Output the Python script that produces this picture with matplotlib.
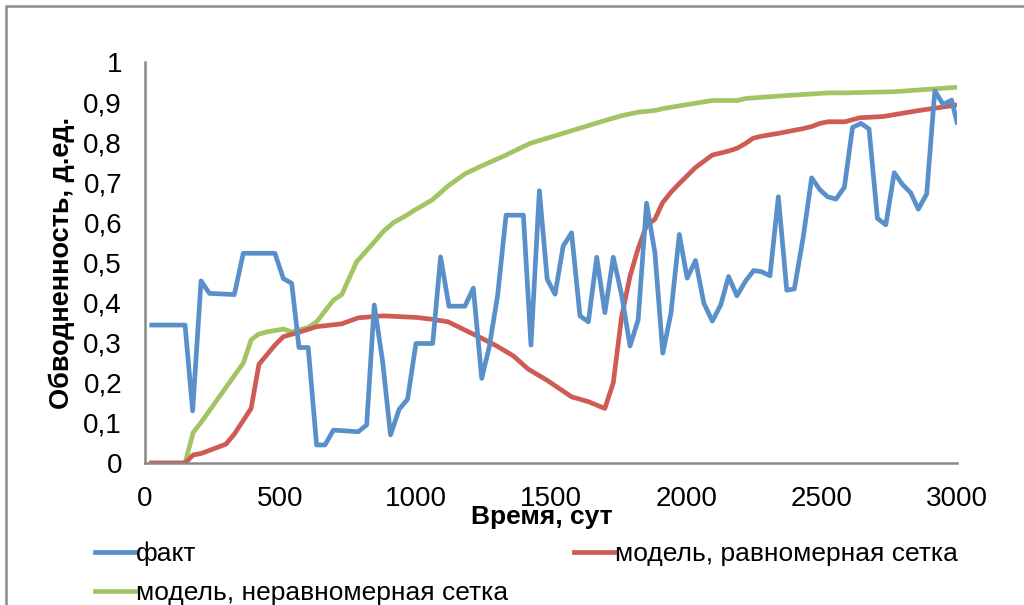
import matplotlib.pyplot as plt
import matplotlib.ticker as ticker
from matplotlib.patches import Rectangle

plt.rcParams['font.family'] = ['Liberation Sans', 'DejaVu Sans']

# факт
fact_days = [25, 148, 176, 207, 238, 330, 363, 480, 511, 542, 569, 603, 634, 665, 696,
             788, 819, 847, 878, 907, 939, 970, 1001, 1063, 1092, 1123, 1182, 1213, 1244, 1272,
             1303, 1334, 1398, 1426, 1457, 1486, 1515, 1545, 1576, 1607, 1638, 1669, 1699, 1730, 1761,
             1792, 1822, 1853, 1884, 1913, 1943, 1974, 2003, 2034, 2065, 2096, 2127, 2156, 2187, 2219,
             2249, 2278, 2309, 2340, 2371, 2399, 2432, 2463, 2494, 2522, 2553, 2584, 2614, 2645, 2675,
             2706, 2737, 2768, 2798, 2829, 2857, 2888, 2918, 2949, 2980, 3000]
fact = [0.344, 0.344, 0.13, 0.454, 0.423, 0.42, 0.523, 0.523, 0.46, 0.448, 0.288, 0.288, 0.045, 0.045, 0.082,
        0.078, 0.095, 0.394, 0.253, 0.07, 0.134, 0.159, 0.298, 0.298, 0.514, 0.391, 0.391, 0.436, 0.211, 0.29,
        0.419, 0.618, 0.618, 0.294, 0.679, 0.458, 0.421, 0.541, 0.574, 0.367, 0.352, 0.513, 0.375, 0.513, 0.419,
        0.292, 0.357, 0.648, 0.524, 0.274, 0.373, 0.570, 0.461, 0.505, 0.398, 0.354, 0.394, 0.465, 0.417, 0.454,
        0.480, 0.477, 0.467, 0.664, 0.431, 0.434, 0.564, 0.711, 0.681, 0.664, 0.658, 0.688, 0.837, 0.847, 0.833,
        0.610, 0.594, 0.724, 0.695, 0.674, 0.633, 0.671, 0.928, 0.894, 0.905, 0.85]

# модель, равномерная сетка
uni_days = [25, 148, 178, 209, 299, 330, 392, 421, 480, 511, 573, 634, 727, 788, 880, 1004, 1065,
            1120, 1244, 1299, 1361, 1416, 1484, 1576, 1638, 1699, 1730, 1761, 1792, 1822, 1853, 1884,
            1912, 1943, 1974, 2034, 2096, 2157, 2188, 2219, 2247, 2278, 2340, 2432, 2463, 2494, 2524,
            2586, 2641, 2727, 2850, 3000]
uni = [0, 0, 0.02, 0.024, 0.047, 0.072, 0.136, 0.246, 0.294, 0.315, 0.327, 0.340, 0.347, 0.362, 0.367,
       0.363, 0.358, 0.352, 0.311, 0.292, 0.267, 0.234, 0.207, 0.165, 0.153, 0.136, 0.20, 0.365, 0.466,
       0.535, 0.592, 0.608, 0.649, 0.675, 0.697, 0.737, 0.768, 0.778, 0.785, 0.797, 0.810, 0.815, 0.822,
       0.834, 0.839, 0.847, 0.851, 0.851, 0.861, 0.864, 0.878, 0.893]

# модель, неравномерная сетка
nonuni_days = [25, 148, 178, 209, 363, 392, 419, 450, 511, 542, 603, 634, 696, 727, 782, 843, 880,
               917, 967, 997, 1061, 1120, 1182, 1244, 1334, 1422, 1515, 1607, 1699, 1761, 1822, 1884,
               1915, 2050, 2096, 2188, 2219, 2340, 2524, 2586, 2771, 3000]
nonuni = [0, 0, 0.076, 0.103, 0.249, 0.307, 0.321, 0.327, 0.334, 0.327, 0.338, 0.352, 0.406, 0.420,
          0.502, 0.548, 0.577, 0.599, 0.618, 0.631, 0.656, 0.691, 0.721, 0.741, 0.768, 0.797, 0.816,
          0.835, 0.854, 0.866, 0.875, 0.879, 0.884, 0.899, 0.904, 0.904, 0.909, 0.915, 0.923, 0.923,
          0.926, 0.937]

labels = ['факт', 'модель, равномерная сетка', 'модель, неравномерная сетка']
colors = ['#5A90CA', '#CE5C55', '#A3C463']

fig = plt.figure(figsize=(10.24, 6.05), dpi=100)
ax = fig.add_axes([145 / 1024, 1 - 463 / 605, 812 / 1024, 401 / 605])

l_fact, = ax.plot(fact_days, fact, color=colors[0], lw=3.4, label=labels[0], zorder=3)
l_uni, = ax.plot(uni_days, uni, color=colors[1], lw=3.4, label=labels[1], zorder=2)
l_non, = ax.plot(nonuni_days, nonuni, color=colors[2], lw=3.4, label=labels[2], zorder=1)

ax.set_xlim(0, 3000)
ax.set_ylim(0, 1)
ax.xaxis.set_major_locator(ticker.MultipleLocator(500))
ax.yaxis.set_major_locator(ticker.MultipleLocator(0.1))
ax.yaxis.set_major_formatter(ticker.FuncFormatter(lambda v, p: ('%g' % round(v, 1)).replace('.', ',')))
ax.tick_params(length=0, labelsize=20, pad=16.5)

for s in ['top', 'right']:
    ax.spines[s].set_visible(False)
for s in ['left', 'bottom']:
    ax.spines[s].set_color('#898989')
    ax.spines[s].set_linewidth(1.8)

ax.set_xlabel('Время, сут', fontsize=19, fontweight='bold', labelpad=-5, x=(542 - 145) / 812)
ax.set_ylabel('Обводненность, д.ед.', fontsize=19.5, fontweight='bold', labelpad=6)

fig.legend(handles=[l_fact, l_non, l_uni], loc='upper left', bbox_to_anchor=(95 / 1024, 1 - 542 / 605),
           ncol=2, frameon=False, fontsize=19, handlelength=1.5, handletextpad=0.05,
           columnspacing=2.5, labelspacing=0.55, borderpad=0, borderaxespad=0)

# рамка области диаграммы
fig.patches.append(Rectangle((6 / 1024, -0.1), 1.2, 1.1 - 6 / 605, transform=fig.transFigure,
                             fill=False, edgecolor='#8c8c8c', lw=1.8))

fig.savefig('out.png', dpi=100)
